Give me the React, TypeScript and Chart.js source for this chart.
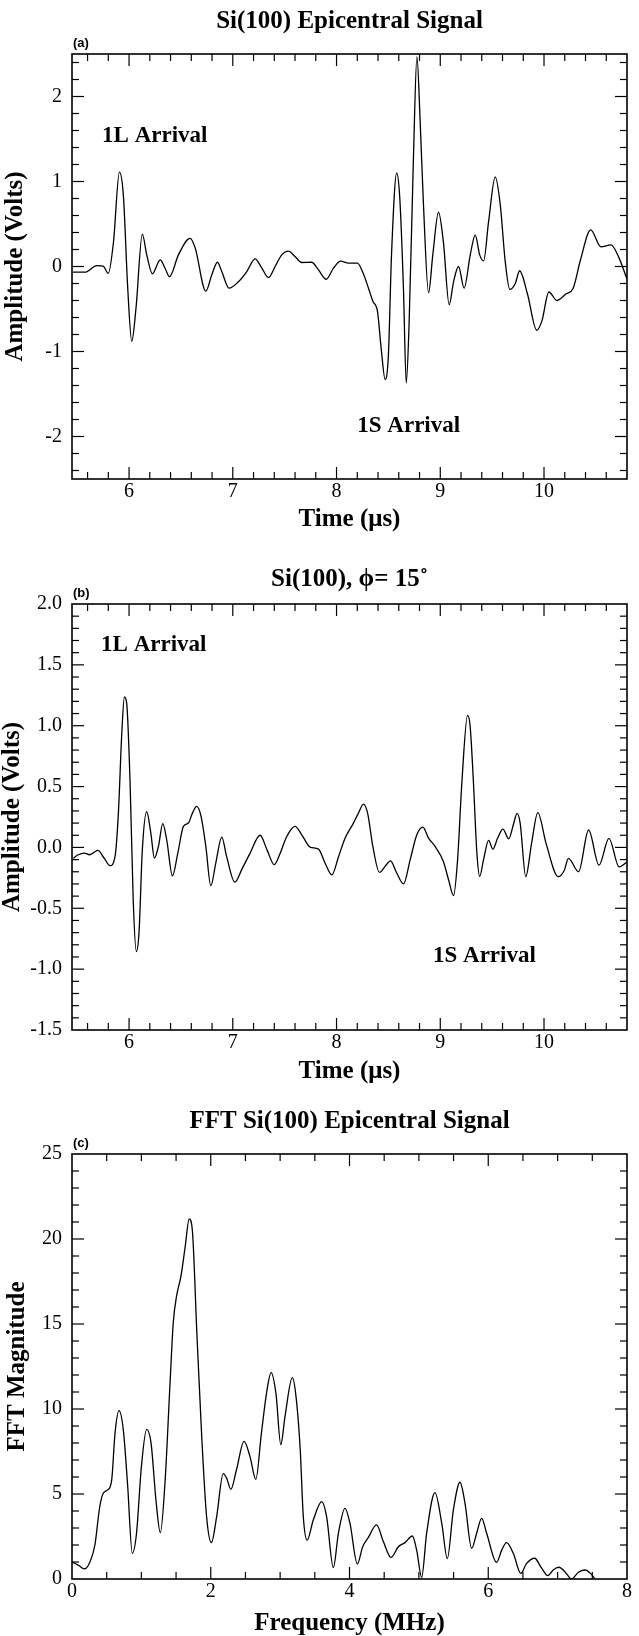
import React, { useEffect, useRef } from "react";
import { Chart, registerables } from "chart.js";

Chart.register(...registerables);

// ---------- Panel (a): Si(100) epicentral signal ----------
const TIME_A: number[] = [
  5.46, 5.575, 5.69, 5.75, 5.8, 5.85, 5.907, 5.945, 5.987, 6.026, 6.067, 6.128, 6.17, 6.225, 6.3, 6.347, 6.39,
  6.476, 6.588, 6.637, 6.74, 6.797, 6.852, 6.894, 6.964, 7.054, 7.135, 7.215, 7.28, 7.344, 7.408, 7.472, 7.536,
  7.6, 7.665, 7.76, 7.826, 7.9, 7.97, 8.04, 8.115, 8.202, 8.25, 8.308, 8.35, 8.395, 8.43, 8.469, 8.5, 8.53, 8.58,
  8.61, 8.645, 8.672, 8.7, 8.742, 8.775, 8.806, 8.838, 8.887, 8.928, 8.983, 9.03, 9.086, 9.128, 9.176, 9.23,
  9.289, 9.337, 9.38, 9.418, 9.466, 9.53, 9.578, 9.626, 9.67, 9.723, 9.765, 9.84, 9.93, 9.98, 10.047, 10.125,
  10.215, 10.28, 10.35, 10.45, 10.55, 10.646, 10.72, 10.8,
];
const AMP_A: number[] = [
  -0.067, -0.067, 0.01, 0.004, -0.08, 0.29, 1.11, 0.84, -0.25, -0.88, -0.49, 0.38, 0.14, -0.086, 0.078, -0.02, -0.12,
  0.137, 0.33, 0.22, -0.29, -0.1, 0.05, -0.06, -0.255, -0.18, -0.06, 0.09, -0.02, -0.13, 0.0, 0.137, 0.18,
  0.118, 0.047, 0.05, -0.04, -0.15, -0.02, 0.063, 0.04, 0.04, -0.06, -0.255, -0.41, -0.53, -0.96, -1.33, -1.04, 0.137, 1.1,
  0.8, -0.255, -1.37, -0.65, 1.31, 2.47, 1.71, 0.73, -0.31, 0.137, 0.64, 0.29, -0.45, -0.18, 0.0, -0.255,
  0.137, 0.37, 0.137, 0.067, 0.53, 1.055, 0.73, 0.06, -0.27, -0.2, -0.05, -0.32, -0.75, -0.64, -0.3, -0.4,
  -0.32, -0.26, 0.07, 0.43, 0.23, 0.255, 0.11, -0.15,
];

// ---------- Panel (b): Si(100), phi = 15 deg ----------
const TIME_B: number[] = [
  5.463, 5.51, 5.57, 5.62, 5.7, 5.76, 5.816, 5.865, 5.897, 5.93, 5.955, 5.977, 6.01, 6.04, 6.07, 6.096, 6.128,
  6.17, 6.21, 6.244, 6.283, 6.325, 6.363, 6.418, 6.47, 6.524, 6.572, 6.61, 6.652, 6.694, 6.74, 6.788, 6.836,
  6.894, 6.94, 7.02, 7.087, 7.167, 7.263, 7.33, 7.4, 7.456, 7.52, 7.6, 7.665, 7.745, 7.826, 7.89, 7.955, 8.02,
  8.083, 8.163, 8.21, 8.26, 8.3, 8.35, 8.414, 8.468, 8.52, 8.58, 8.646, 8.71, 8.774, 8.832, 8.887, 8.95, 9.03,
  9.08, 9.128, 9.167, 9.208, 9.263, 9.288, 9.32, 9.353, 9.38, 9.417, 9.466, 9.507, 9.553, 9.604, 9.66, 9.707,
  9.74, 9.77, 9.824, 9.88, 9.94, 10.02, 10.137, 10.196, 10.235, 10.333, 10.43, 10.53, 10.626, 10.724, 10.8,
];
const AMP_B: number[] = [
  -0.088, -0.06, -0.047, -0.06, -0.025, -0.088, -0.15, -0.074, 0.28, 0.94, 1.236, 1.186, 0.53, -0.43, -0.855, -0.7, -0.02,
  0.293, 0.118, -0.088, 0.008, 0.195, 0.063, -0.233, -0.047, 0.173, 0.2, 0.28, 0.337, 0.255, 0.008, -0.315, -0.129,
  0.085, -0.074, -0.285, -0.18, -0.047, 0.1, -0.02, -0.142, -0.05, 0.09, 0.173, 0.104, 0.003, -0.014, -0.13, -0.225, -0.074,
  0.077, 0.2, 0.28, 0.356, 0.28, 0.008, -0.205, -0.156, -0.11, -0.21, -0.3, -0.1, 0.104, 0.167, 0.077, 0.008, -0.115,
  -0.266, -0.395, -0.1, 0.53, 1.085, 0.995, 0.53, -0.047, -0.238, -0.1, 0.058, -0.014, 0.077, 0.15, 0.07, 0.195,
  0.28, 0.2, -0.24, 0.033, 0.286, 0.033, -0.24, -0.187, -0.09, -0.2, 0.143, -0.146, 0.074, -0.16, -0.12,
];

// ---------- Panel (c): FFT of the epicentral signal ----------
const FREQ_C: number[] = [
  0.0, 0.09, 0.178, 0.26, 0.33, 0.4, 0.45, 0.514, 0.572, 0.62, 0.678, 0.74, 0.8, 0.87, 0.93, 1.0, 1.076, 1.14,
  1.21, 1.273, 1.34, 1.413, 1.46, 1.51, 1.57, 1.63, 1.69, 1.735, 1.8, 1.87, 1.94, 2.01, 2.085, 2.18, 2.23, 2.29,
  2.37, 2.48, 2.566, 2.65, 2.73, 2.81, 2.87, 2.94, 3.01, 3.07, 3.176, 3.23, 3.29, 3.334, 3.39, 3.478, 3.6, 3.67,
  3.767, 3.84, 3.935, 4.007, 4.113, 4.19, 4.27, 4.39, 4.488, 4.598, 4.704, 4.8, 4.906, 4.968, 5.04, 5.112, 5.232,
  5.33, 5.41, 5.497, 5.593, 5.665, 5.761, 5.833, 5.905, 5.977, 6.12, 6.194, 6.265, 6.362, 6.47, 6.55, 6.67, 6.76,
  6.86, 6.94, 7.02, 7.11, 7.2, 7.3, 7.4, 7.48, 7.54,
];
const MAG_C: number[] = [
  1.0, 0.82, 0.59, 1.02, 2.0, 4.25, 5.04, 5.24, 5.82, 8.57, 9.9, 8.76, 5.63, 1.51, 2.69, 6.6, 8.8, 7.98,
  4.65, 2.73, 5.63, 11.5, 15.1, 16.7, 17.8, 19.5, 21.18, 20.5, 14.45, 8.37, 3.67, 2.14, 3.67, 6.2, 5.92, 5.27,
  6.41, 8.1, 7.2, 5.86, 8.57, 11.1, 12.14, 10.9, 7.9, 9.55, 11.84, 10.7, 7.6, 3.67, 2.29, 3.47, 4.55, 3.67,
  0.67, 2.69, 4.16, 3.27, 0.88, 1.9, 2.43, 3.18, 2.2, 1.27, 1.9, 2.14, 2.53, 1.7, 0.1, 2.69, 5.08,
  3.27, 1.2, 4.06, 5.69, 4.45, 1.8, 2.69, 3.57, 2.69, 0.98, 1.7, 2.14, 1.5, 0.33, 0.9, 1.22, 0.7,
  0.2, 0.55, 0.69, 0.4, 0.0, 0.4, 0.53, 0.3, 0.0,
];

// ---------- Tick labels ----------
const TIME_TICKS = [6, 7, 8, 9, 10];
const AMP_TICKS_A = [-2, -1, 0, 1, 2];
const AMP_TICKS_B = [-1.5, -1, -0.5, 0, 0.5, 1, 1.5, 2];
const FREQ_TICKS = [0, 2, 4, 6, 8];
const MAG_TICKS = [0, 5, 10, 15, 20, 25];

// ---------- Text ----------
const TITLES = ["Si(100) Epicentral Signal", "Si(100), \u03D5= 15\u02DA", "FFT Si(100) Epicentral Signal"];
const TAGS = ["(a)", "(b)", "(c)"];
const X_TITLES = ["Time (\u03BCs)", "Time (\u03BCs)", "Frequency (MHz)"];
const Y_TITLES = ["Amplitude (Volts)", "Amplitude (Volts)", "FFT Magnitude"];
const NOTE_LABELS = ["1L Arrival", "1S Arrival"];
const NOTE_X_A = [5.74, 8.2];
const NOTE_Y_A = [1.53, -1.88];
const NOTE_X_B = [5.73, 8.93];
const NOTE_Y_B = [1.664, -0.895];

const SERIF = '"Liberation Serif", "Times New Roman", Times, serif';
const SANS = '"Liberation Sans", Arial, Helvetica, sans-serif';

function steps(lo: number, hi: number, step: number): number[] {
  const out: number[] = [];
  const n = Math.round((hi - lo) / step);
  for (let i = 0; i <= n; i++) out.push(+(lo + i * step).toFixed(6));
  return out;
}

type Spec = {
  top: number;
  h: number;
  plotTop: number;
  plotBottom: number;
  xs: number[];
  ys: number[];
  xMin: number;
  xMax: number;
  yMin: number;
  yMax: number;
  xTicks: number[];
  yTicks: number[];
  xMinor: number[];
  yMinor: number[];
  yFmt: (v: number) => string;
  title: string;
  titleY: number;
  tag: string;
  xTitle: string;
  yTitle: string;
  xTitlePad: number;
  yTitlePad: number;
  notesX: number[];
  notesY: number[];
};

const PLOT_LEFT = 72;
const PLOT_RIGHT_PAD = 12;
const MAJOR_LEN = 12;
const MINOR_LEN = 7;

function buildConfig(s: Spec): any {
  const frame = {
    id: "frameTicks",
    afterDatasetsDraw(chart: any) {
      const { ctx, chartArea: a, scales } = chart;
      const x = scales.x;
      const y = scales.y;
      ctx.save();
      ctx.strokeStyle = "#000";
      ctx.lineWidth = 1.2;
      const seg = (x1: number, y1: number, x2: number, y2: number) => {
        ctx.beginPath();
        ctx.moveTo(x1, y1);
        ctx.lineTo(x2, y2);
        ctx.stroke();
      };
      const xt = (vals: number[], len: number) =>
        vals.forEach((v) => {
          const p = x.getPixelForValue(v);
          if (p < a.left + 1 || p > a.right - 1) return;
          seg(p, a.bottom, p, a.bottom - len);
          seg(p, a.top, p, a.top + len);
        });
      const yt = (vals: number[], len: number) =>
        vals.forEach((v) => {
          const p = y.getPixelForValue(v);
          if (p < a.top + 1 || p > a.bottom - 1) return;
          seg(a.left, p, a.left + len, p);
          seg(a.right, p, a.right - len, p);
        });
      xt(s.xTicks, MAJOR_LEN);
      xt(s.xMinor, MINOR_LEN);
      yt(s.yTicks, MAJOR_LEN);
      yt(s.yMinor, MINOR_LEN);
      ctx.lineWidth = 1.6;
      ctx.strokeRect(a.left, a.top, a.right - a.left, a.bottom - a.top);
      ctx.restore();
    },
  };
  const text = {
    id: "panelText",
    afterDraw(chart: any) {
      const { ctx, chartArea: a, scales } = chart;
      ctx.save();
      ctx.fillStyle = "#000";
      ctx.textBaseline = "middle";
      ctx.textAlign = "center";
      ctx.font = `bold 25px ${SERIF}`;
      ctx.fillText(s.title, (a.left + a.right) / 2, s.titleY);
      ctx.textAlign = "left";
      ctx.font = `bold 13px ${SANS}`;
      ctx.fillText(s.tag, a.left + 1, a.top - 11);
      ctx.font = `bold 23px ${SERIF}`;
      s.notesX.forEach((nx, i) => {
        ctx.fillText(NOTE_LABELS[i], scales.x.getPixelForValue(nx), scales.y.getPixelForValue(s.notesY[i]));
      });
      ctx.restore();
    },
  };
  const tickFont = { family: SERIF, size: 20, weight: "normal" as const };
  const titleFont = { family: SERIF, size: 25, weight: "bold" as const, lineHeight: 1 };
  return {
    type: "line",
    data: {
      datasets: [
        {
          data: s.xs.map((x, i) => ({ x, y: s.ys[i] })),
          borderColor: "#000",
          borderWidth: 1.3,
          pointRadius: 0,
          fill: false,
          cubicInterpolationMode: "monotone",
        },
      ],
    },
    options: {
      responsive: false,
      animation: false,
      devicePixelRatio: 1,
      layout: { padding: { left: 0, right: PLOT_RIGHT_PAD, top: s.plotTop, bottom: 0 } },
      plugins: { legend: { display: false }, tooltip: { enabled: false }, title: { display: false } },
      scales: {
        x: {
          type: "linear",
          min: s.xMin,
          max: s.xMax,
          grid: { display: false, drawTicks: false },
          border: { display: false },
          afterBuildTicks: (sc: any) => {
            sc.ticks = s.xTicks.map((v) => ({ value: v }));
          },
          afterFit: (sc: any) => {
            sc.height = s.h - s.plotBottom;
          },
          ticks: {
            color: "#000",
            font: tickFont,
            padding: 1,
            maxRotation: 0,
            autoSkip: false,
            callback: (v: number) => String(v),
          },
          title: {
            display: true,
            text: s.xTitle,
            color: "#000",
            font: titleFont,
            padding: { top: 0, bottom: s.xTitlePad },
          },
        },
        y: {
          type: "linear",
          min: s.yMin,
          max: s.yMax,
          grid: { display: false, drawTicks: false },
          border: { display: false },
          afterBuildTicks: (sc: any) => {
            sc.ticks = s.yTicks.map((v) => ({ value: v }));
          },
          afterFit: (sc: any) => {
            sc.width = PLOT_LEFT;
          },
          ticks: {
            color: "#000",
            font: tickFont,
            padding: 10,
            autoSkip: false,
            callback: (v: number) => s.yFmt(v),
          },
          title: {
            display: true,
            text: s.yTitle,
            color: "#000",
            font: titleFont,
            padding: { top: s.yTitlePad, bottom: 0 },
          },
        },
      },
    },
    plugins: [frame, text],
  };
}

const notMajor = (majors: number[]) => (v: number) => !majors.some((m) => Math.abs(m - v) < 1e-6);

const SPECS: Spec[] = [
  {
    top: 0,
    h: 540,
    plotTop: 54,
    plotBottom: 479,
    xs: TIME_A,
    ys: AMP_A,
    xMin: 5.45,
    xMax: 10.8,
    yMin: -2.5,
    yMax: 2.5,
    xTicks: TIME_TICKS,
    yTicks: AMP_TICKS_A,
    xMinor: steps(5.6, 10.8, 0.2).filter(notMajor(TIME_TICKS)),
    yMinor: steps(-2.4, 2.4, 0.2).filter(notMajor(AMP_TICKS_A)),
    yFmt: (v) => String(v),
    title: TITLES[0],
    titleY: 22,
    tag: TAGS[0],
    xTitle: X_TITLES[0],
    yTitle: Y_TITLES[0],
    xTitlePad: 7.5,
    yTitlePad: 3.5,
    notesX: NOTE_X_A,
    notesY: NOTE_Y_A,
  },
  {
    top: 540,
    h: 545,
    plotTop: 64,
    plotBottom: 490,
    xs: TIME_B,
    ys: AMP_B,
    xMin: 5.45,
    xMax: 10.8,
    yMin: -1.5,
    yMax: 2.0,
    xTicks: TIME_TICKS,
    yTicks: AMP_TICKS_B,
    xMinor: steps(5.6, 10.8, 0.2).filter(notMajor(TIME_TICKS)),
    yMinor: steps(-1.5, 2.0, 0.1).filter(notMajor(AMP_TICKS_B)),
    yFmt: (v) => v.toFixed(1),
    title: TITLES[1],
    titleY: 40,
    tag: TAGS[1],
    xTitle: X_TITLES[1],
    yTitle: Y_TITLES[1],
    xTitlePad: 0.5,
    yTitlePad: 0,
    notesX: NOTE_X_B,
    notesY: NOTE_Y_B,
  },
  {
    top: 1085,
    h: 551,
    plotTop: 69,
    plotBottom: 494,
    xs: FREQ_C,
    ys: MAG_C,
    xMin: 0,
    xMax: 8,
    yMin: 0,
    yMax: 25,
    xTicks: FREQ_TICKS,
    yTicks: MAG_TICKS,
    xMinor: steps(0, 8, 0.5).filter(notMajor(FREQ_TICKS)),
    yMinor: steps(0, 25, 1).filter(notMajor(MAG_TICKS)),
    yFmt: (v) => String(v),
    title: TITLES[2],
    titleY: 37,
    tag: TAGS[2],
    xTitle: X_TITLES[2],
    yTitle: Y_TITLES[2],
    xTitlePad: 0,
    yTitlePad: 5.5,
    notesX: [],
    notesY: [],
  },
];

function Panel({ spec }: { spec: Spec }) {
  const ref = useRef<HTMLCanvasElement>(null);
  useEffect(() => {
    if (!ref.current) return;
    const chart = new Chart(ref.current, buildConfig(spec));
    return () => chart.destroy();
  }, [spec]);
  return (
    <canvas
      ref={ref}
      width={639}
      height={spec.h}
      style={{ position: "absolute", left: 0, top: spec.top, width: 639, height: spec.h, display: "block" }}
    />
  );
}

export default function App() {
  return (
    <div
      style={{
        position: "absolute",
        left: 0,
        top: 0,
        width: 639,
        height: 1636,
        overflow: "hidden",
        background: "#fff",
      }}
    >
      {SPECS.map((s, i) => (
        <Panel key={i} spec={s} />
      ))}
    </div>
  );
}
